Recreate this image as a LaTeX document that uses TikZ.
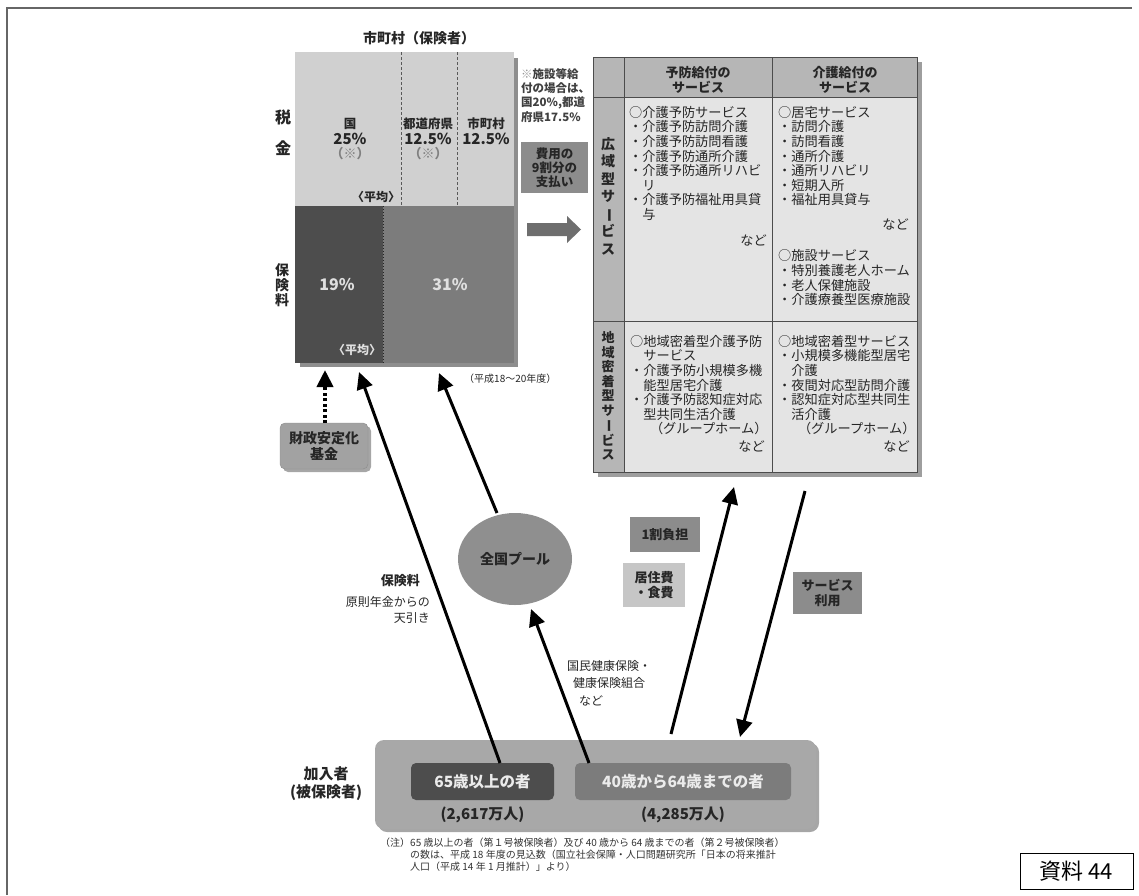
\documentclass[tikz,border=0pt]{standalone}
\usepackage{fontspec}
\setmainfont{Noto Sans CJK JP}
\usetikzlibrary{arrows.meta,shapes.geometric}
\definecolor{taxc}{HTML}{D0D0D0}
\definecolor{darkc}{HTML}{4D4D4D}
\definecolor{midc}{HTML}{7C7C7C}
\definecolor{hdrc}{HTML}{B6B6B6}
\definecolor{bodyc}{HTML}{E4E4E4}
\definecolor{grayc}{HTML}{A8A8A8}
\definecolor{poolc}{HTML}{8F8F8F}
\definecolor{labc}{HTML}{8C8C8C}
\definecolor{lightc}{HTML}{C6C6C6}
\definecolor{txtc}{HTML}{262626}
\definecolor{shdc}{HTML}{8E8E8E}
\definecolor{fundc}{HTML}{A2A2A2}
\definecolor{arrc}{HTML}{6E6E6E}
\newcommand{\vbar}{\rotatebox[origin=c]{-90}{ー}}
\tikzset{
  blk/.style={inner sep=0pt, outer sep=0pt, anchor=north west},
  t/.style={inner sep=0pt, text=txtc, font=\fontsize{13}{15}\selectfont\bfseries},
  lst/.style={inner sep=0pt, anchor=north west, align=left, text=txtc, font=\fontsize{13.2}{14.6}\selectfont},
  arr/.style={line width=3pt, draw=black, -{Triangle[length=17pt,width=16pt]}},
  grid/.style={draw=black!70, line width=0.9pt},
}
\begin{document}
\begin{tikzpicture}[x=1pt,y=-1pt]
\useasboundingbox (0,0) rectangle (1139,895);
% page frame
\draw[line width=1.3pt, black!60] (7,895) -- (7,8) -- (1132,8);

% ---------- title
\node[t, font=\fontsize{14}{16}\selectfont\bfseries] (title) at (419,38) {市町村（保険者）};

% ---------- tax block
\fill[shdc] (514,58) rectangle (518,367);
\fill[shdc] (300,363) rectangle (518,367);
\node[blk, fill=taxc, minimum width=219pt, minimum height=154pt] (tax) at (295,52) {};
\draw[black!65, line width=0.8pt, dash pattern=on 3pt off 2pt] (401,52) -- (401,206);
\draw[black!65, line width=0.8pt, dash pattern=on 3pt off 2pt] (457,52) -- (457,206);
\node[t, font=\fontsize{12.5}{14}\selectfont\bfseries] (kuni) at (350,124) {国};
\node[t, font=\fontsize{15}{16}\selectfont\bfseries] (kunip) at (350,139) {25\%};
\node[t, text=black!50] (kunis) at (350,154) {（※）};
\node[t, font=\fontsize{12.5}{14}\selectfont\bfseries] (pref) at (428,124) {都道府県};
\node[t, font=\fontsize{15}{16}\selectfont\bfseries] (prefp) at (428,139) {12.5\%};
\node[t, text=black!50] (prefs) at (428,154) {（※）};
\node[t, font=\fontsize{12.5}{14}\selectfont\bfseries] (muni) at (486,124) {市町村};
\node[t, font=\fontsize{15}{16}\selectfont\bfseries] (munip) at (486,139) {12.5\%};
\node[t, font=\fontsize{12}{14}\selectfont\bfseries] (avg1) at (376,197) {〈平均〉};
\node[t, font=\fontsize{16}{18}\selectfont\bfseries] (zei) at (283,117) {税};
\node[t, font=\fontsize{16}{18}\selectfont\bfseries] (kin) at (283,148) {金};

% ---------- premium block
\node[blk, fill=darkc, minimum width=88pt, minimum height=157pt] (prem1) at (295,206) {};
\node[blk, fill=midc, minimum width=131pt, minimum height=157pt] (prem2) at (383,206) {};
\draw[black!85, line width=1pt, dotted] (prem1.north east) -- (prem1.south east);
\node[t, text=white!88!black, font=\fontsize{16}{18}\selectfont\bfseries] (p19) at (337,285) {19\%};
\node[t, text=white!88!black, font=\fontsize{16}{18}\selectfont\bfseries] (p31) at (450,285) {31\%};
\node[t, text=white!88!black, font=\fontsize{12}{14}\selectfont\bfseries] (avg2) at (357,350) {〈平均〉};
\node[t, align=center, font=\fontsize{14}{15}\selectfont\bfseries] (hokenryo) at (282,285) {保\\険\\料};
\node[lst, anchor=west, font=\fontsize{10}{12}\selectfont] (year) at (464,379) {（平成18～20年度）};

% ---------- note and payment box
\node[lst, font=\fontsize{11.5}{14.3}\selectfont\bfseries, text=black!75] (note) at (521,68)
  {{\color{black!40}※}施設等給\\付の場合は、\\国20\%,都道\\府県17.5\%};
\node[blk, t, fill=labc, minimum width=67pt, minimum height=51pt, align=center,
      font=\fontsize{12.5}{14}\selectfont\bfseries] (pay) at (521,142) {費用の\\9割分の\\支払い};
\fill[arrc] (527,223) -- (567,223) -- (567,216) -- (581,229.5) -- (567,243) -- (567,236) -- (527,236) -- cycle;

% ---------- service table
\fill[black!38] (598,62) rectangle (922,477);
\node[blk, fill=bodyc, minimum width=324pt, minimum height=415pt] (table) at (593,57) {};
\fill[hdrc] (593,57) rectangle (917,97);
\fill[hdrc] (593,97) rectangle (624,472);
\draw[grid] (593,57) rectangle (917,472);
\draw[grid] (624,57) -- (624,472);
\draw[grid] (772,57) -- (772,472);
\draw[grid] (593,97) -- (917,97);
\draw[grid] (593,321) -- (917,321);
\node[t, align=center, font=\fontsize{13}{14.5}\selectfont\bfseries] (h1) at (698,80) {予防給付の\\サービス};
\node[t, align=center, font=\fontsize{13}{14.5}\selectfont\bfseries] (h2) at (845,80) {介護給付の\\サービス};
\node[t, align=center, font=\fontsize{14}{17.5}\selectfont\bfseries] (r1) at (608,196) {広\\域\\型\\サ\\\vbar\\ビ\\ス};
\node[t, align=center, font=\fontsize{13}{14.5}\selectfont\bfseries] (r2) at (608,396) {地\\域\\密\\着\\型\\サ\\\vbar\\ビ\\ス};

\node[lst] (c11) at (629,106) {○介護予防サービス\\・介護予防訪問介護\\・介護予防訪問看護\\・介護予防通所介護\\・介護予防通所リハビ\\\hspace*{1em}リ\\・介護予防福祉用具貸\\\hspace*{1em}与};
\node[lst, anchor=east] (c11n) at (767,240) {など};
\node[lst] (c12) at (778,106) {○居宅サービス\\・訪問介護\\・訪問看護\\・通所介護\\・通所リハビリ\\・短期入所\\・福祉用具貸与};
\node[lst, anchor=east] (c12n) at (909,224) {など};
\node[lst] (c12b) at (778,249.5) {○施設サービス\\・特別養護老人ホーム\\・老人保健施設\\・介護療養型医療施設};
\node[lst] (c21) at (630,335) {○地域密着型介護予防\\\hspace*{1em}サービス\\・介護予防小規模多機\\\hspace*{1em}能型居宅介護\\・介護予防認知症対応\\\hspace*{1em}型共同生活介護\\\hspace*{1.5em}（グループホーム）};
\node[lst, anchor=east] (c21n) at (765,446) {など};
\node[lst] (c22) at (778,335) {○地域密着型サービス\\・小規模多機能型居宅\\\hspace*{1em}介護\\・夜間対応型訪問介護\\・認知症対応型共同生\\\hspace*{1em}活介護\\\hspace*{1.5em}（グループホーム）};
\node[lst, anchor=east] (c22n) at (910,446) {など};

% ---------- fund
\fill[black!35, rounded corners=5pt] (283,426) rectangle (371,472);
\node[blk, t, fill=fundc, draw=black!45, rounded corners=5pt, minimum width=88pt, minimum height=46pt,
      align=center, font=\fontsize{14}{16}\selectfont\bfseries] (fund) at (280,423) {財政安定化\\基金};

% ---------- pool and labels
\node[ellipse, fill=poolc, minimum width=114pt, minimum height=92pt, inner sep=0pt, text=txtc,
      font=\fontsize{14}{16}\selectfont\bfseries] (pool) at (515,559) {全国プール};
\node[blk, t, fill=labc, minimum width=70pt, minimum height=35pt] (one) at (630,517) {1割負担};
\node[blk, t, fill=lightc, minimum width=62pt, minimum height=44pt, align=center] (food) at (623,563) {居住費\\・食費};
\node[blk, t, fill=labc, minimum width=69pt, minimum height=42pt, align=center] (use) at (793,572) {サービス\\利用};
\node[t, anchor=east, font=\fontsize{13}{15}\selectfont\bfseries] (lab1) at (420,581) {保険料};
\node[lst, anchor=east, align=right, font=\fontsize{12}{16}\selectfont] (lab2) at (430,610) {原則年金からの\\天引き};
\node[lst, font=\fontsize{12}{17.5}\selectfont] (lab3) at (567,660) {国民健康保険・\\\hspace*{0.5em}健康保険組合\\\hspace*{1em}など};

% ---------- members
\fill[black!35, rounded corners=9pt] (378,743) rectangle (819,832);
\node[blk, fill=grayc, rounded corners=9pt, minimum width=441pt, minimum height=89pt] (members) at (375,740) {};
\node[blk, fill=darkc, rounded corners=5pt, minimum width=143pt, minimum height=37pt, text=white!92!black,
      font=\fontsize{15.5}{17}\selectfont\bfseries] (p65) at (411,763) {65歳以上の者};
\node[blk, fill=midc, rounded corners=5pt, minimum width=216pt, minimum height=37pt, text=white!92!black,
      font=\fontsize{15.5}{17}\selectfont\bfseries] (p40) at (575,763) {40歳から64歳までの者};
\node[t, font=\fontsize{15}{17}\selectfont\bfseries] (n65) at ([yshift=-15pt]p65.south) {(2,617万人)};
\node[t, font=\fontsize{15}{17}\selectfont\bfseries] (n40) at ([yshift=-15pt]p40.south) {(4,285万人)};
\node[t, align=center, font=\fontsize{15}{18}\selectfont\bfseries] (kanyu) at (326,784) {加入者\\(被保険者)};

% ---------- footnote and label
\node[lst, font=\fontsize{10}{12}\selectfont, text=black!80] (foot) at (380,838)
  {（注）65 歳以上の者（第１号被保険者）及び 40 歳から 64 歳までの者（第２号被保険者）\\\hspace*{3em}の数は、平成 18 年度の見込数（国立社会保障・人口問題研究所「日本の将来推計\\\hspace*{3em}人口（平成 14 年 1 月推計）」より）};
\node[blk, draw=black, line width=1pt, minimum width=113pt, minimum height=36pt,
      font=\fontsize{22}{24}\selectfont] (doc) at (1020,853) {資料 44};

% ---------- connectors
\coordinate (a1s) at (500,763); \coordinate (a1e) at (359,372);
\coordinate (a2s) at (497,513); \coordinate (a2e) at (439,373);
\coordinate (a3s) at (589,763); \coordinate (a3e) at (531,609);
\coordinate (a4s) at (671,734); \coordinate (a4e) at (734,487);
\coordinate (a5s) at (805,491); \coordinate (a5e) at (740,737);
\coordinate (fundtop) at (325,423); \coordinate (fundtip) at (325,370);
\draw[arr] (a1s) -- (a1e);
\draw[arr] (a2s) -- (a2e);
\draw[arr] (a3s) -- (a3e);
\draw[arr] (a4s) -- (a4e);
\draw[arr] (a5s) -- (a5e);
\draw[line width=4pt, dash pattern=on 3pt off 2.5pt, -{Triangle[length=17pt,width=16pt]}] (fundtop) -- (fundtip);
\end{tikzpicture}
\end{document}
